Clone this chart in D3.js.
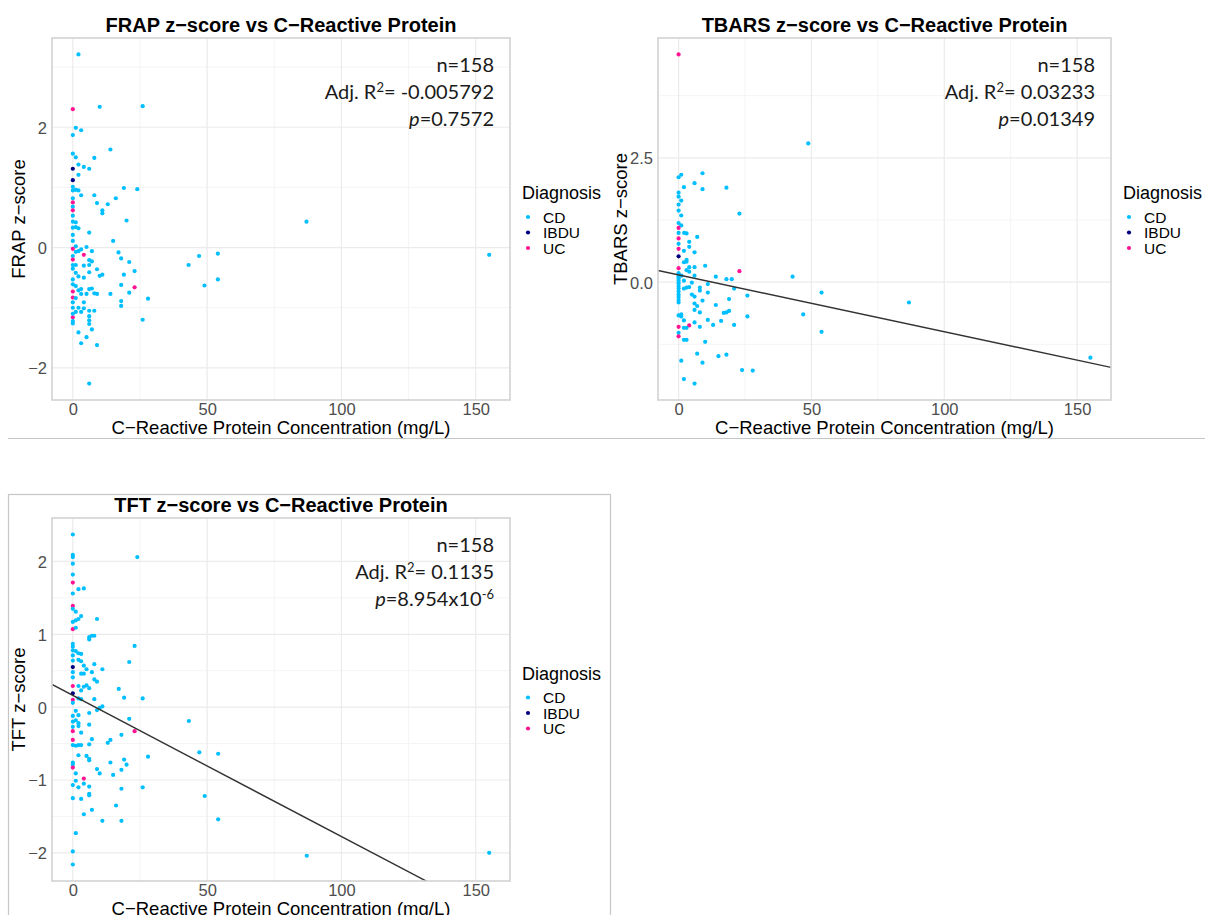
<!DOCTYPE html>
<html>
<head>
<meta charset="utf-8">
<script src="https://cdn.jsdelivr.net/npm/d3@7"></script>
<style>
  body { margin: 0; background: #fff; }
  svg { display: block; }
</style>
</head>
<body>
<svg id="chart" width="1205" height="915"></svg>
<script>
// Diagnosis groups and their colours
const diagnoses = ["CD", "IBDU", "UC"];
const diagColors = ["#00BFFF", "#000080", "#FF1493"];

// Axis ticks
const xTicks = [0, 50, 100, 150];
const xMinorTicks = [25, 75, 125];

// [CRP (mg/L), z-score, diagnosis]
const frapPoints = [
  [2.1,3.21,"CD"],[0,2.30,"UC"],[10,2.34,"CD"],[26,2.35,"CD"],[1.1,1.99,"CD"],[3.1,1.95,"CD"],[0,1.87,"CD"],
  [14,1.63,"CD"],[0,1.56,"CD"],[1.1,1.50,"CD"],[8,1.49,"CD"],[2.1,1.38,"CD"],[0,1.31,"IBDU"],[4.1,1.34,"CD"],
  [6.1,1.31,"CD"],[2.1,1.21,"CD"],[0,1.12,"IBDU"],[0,1.01,"CD"],[0,0.95,"CD"],[1.1,0.96,"CD"],[2.1,0.95,"CD"],
  [19,0.99,"CD"],[24,0.97,"CD"],[3.1,0.87,"CD"],[8,0.87,"CD"],[0,0.82,"CD"],[0,0.75,"UC"],[16,0.82,"CD"],
  [9,0.74,"CD"],[13,0.72,"CD"],[0,0.68,"CD"],[0,0.62,"UC"],[11,0.62,"CD"],[11,0.57,"CD"],[0,0.53,"CD"],
  [20,0.45,"CD"],[0,0.43,"CD"],[1.1,0.42,"CD"],[0,0.33,"CD"],[1.1,0.34,"CD"],[2.1,0.32,"CD"],[6.1,0.25,"CD"],
  [0,0.21,"CD"],[0,0.11,"CD"],[15,0.11,"CD"],[1.1,0.02,"CD"],[0,-0.02,"UC"],[5.1,0.01,"CD"],[3.1,-0.03,"CD"],
  [2.1,-0.06,"CD"],[1.1,-0.07,"CD"],[4.1,-0.12,"UC"],[7.1,-0.06,"CD"],[17,-0.08,"CD"],[0,-0.14,"CD"],
  [18,-0.18,"CD"],[0,-0.20,"UC"],[6.1,-0.21,"CD"],[7.1,-0.23,"CD"],[21,-0.24,"CD"],[0,-0.29,"CD"],
  [1.1,-0.29,"CD"],[4.1,-0.30,"CD"],[6.1,-0.29,"CD"],[0,-0.35,"CD"],[9,-0.36,"CD"],[23,-0.39,"CD"],
  [1.1,-0.42,"CD"],[6.1,-0.41,"CD"],[11,-0.45,"CD"],[10,-0.47,"CD"],[19,-0.45,"CD"],[2.1,-0.48,"CD"],
  [4.1,-0.50,"CD"],[0,-0.53,"CD"],[0,-0.61,"CD"],[1.1,-0.64,"CD"],[18,-0.62,"CD"],[7.1,-0.68,"CD"],
  [6.1,-0.69,"CD"],[23,-0.66,"UC"],[0,-0.73,"UC"],[2.1,-0.71,"CD"],[3.1,-0.69,"CD"],[3.1,-0.77,"CD"],
  [5.1,-0.77,"CD"],[8,-0.76,"CD"],[9,-0.77,"CD"],[14,-0.77,"CD"],[21,-0.75,"CD"],[0,-0.83,"UC"],
  [1.1,-0.84,"CD"],[4.1,-0.91,"CD"],[28,-0.85,"CD"],[18,-0.89,"CD"],[18,-0.97,"CD"],[0,-0.91,"CD"],
  [0,-1.0,"CD"],[2.1,-1.0,"CD"],[4.1,-1.01,"CD"],[3.1,-1.07,"CD"],[1.1,-1.07,"CD"],[6.1,-1.05,"CD"],
  [8,-1.05,"CD"],[0,-1.16,"UC"],[0,-1.10,"CD"],[0,-1.22,"CD"],[0,-1.26,"CD"],[6.1,-1.14,"CD"],
  [6.1,-1.21,"CD"],[6.1,-1.27,"CD"],[26,-1.20,"CD"],[7.1,-1.36,"CD"],[2.1,-1.41,"CD"],[5.1,-1.49,"CD"],
  [3.1,-1.59,"CD"],[9,-1.62,"CD"],[6.1,-2.26,"CD"],[87,0.43,"CD"],[43.1,-0.29,"CD"],[47,-0.14,"CD"],
  [54,-0.10,"CD"],[49,-0.63,"CD"],[54,-0.53,"CD"],[155,-0.12,"CD"]
];

const tbarsPoints = [
  [0,4.58,"UC"],[0,2.11,"CD"],[1,2.16,"CD"],[9,2.19,"CD"],[6,1.99,"CD"],[2,1.91,"CD"],[9,1.87,"CD"],
  [18,1.90,"CD"],[0,1.80,"CD"],[0,1.72,"CD"],[1,1.64,"CD"],[0,1.56,"CD"],[0,1.44,"CD"],[1,1.34,"CD"],
  [22.9,1.38,"CD"],[0,1.19,"CD"],[1,1.14,"CD"],[0,1.09,"UC"],[0,0.99,"CD"],[2.1,0.99,"CD"],[3,0.98,"CD"],
  [7,0.91,"CD"],[0,0.88,"UC"],[4,0.81,"CD"],[0,0.77,"CD"],[0,0.67,"UC"],[4,0.71,"CD"],[2,0.63,"CD"],
  [6,0.60,"CD"],[0,0.52,"IBDU"],[3,0.45,"CD"],[2,0.40,"CD"],[3,0.41,"CD"],[4,0.30,"CD"],[6,0.30,"CD"],
  [10,0.33,"CD"],[0,0.28,"UC"],[3,0.24,"CD"],[4,0.21,"CD"],[22.9,0.22,"UC"],[0,0.18,"CD"],[0,0.12,"CD"],
  [0,0.08,"CD"],[0,0.03,"CD"],[0,-0.02,"CD"],[0,-0.08,"CD"],[0,-0.13,"CD"],[0,-0.19,"CD"],[0,-0.25,"CD"],
  [0,-0.30,"CD"],[0,-0.36,"CD"],[1.1,0.13,"CD"],[6,0.13,"CD"],[14,0.11,"CD"],[18,0.06,"CD"],[20,0.06,"CD"],
  [42.9,0.11,"CD"],[2,0.03,"CD"],[5,-0.01,"CD"],[11,-0.04,"CD"],[3,-0.11,"CD"],[4,-0.10,"CD"],[2,-0.13,"CD"],
  [8,-0.11,"CD"],[8,-0.17,"CD"],[20.9,-0.13,"CD"],[11,-0.21,"CD"],[5,-0.25,"CD"],[6,-0.29,"CD"],
  [25.9,-0.27,"CD"],[19,-0.34,"CD"],[9,-0.37,"CD"],[0,-0.41,"CD"],[6,-0.43,"CD"],[7,-0.48,"CD"],
  [14,-0.46,"CD"],[6,-0.56,"CD"],[8,-0.61,"CD"],[18,-0.61,"CD"],[17,-0.62,"CD"],[19,-0.58,"CD"],
  [0,-0.67,"CD"],[1,-0.65,"CD"],[1,-0.69,"CD"],[2,-0.77,"CD"],[25.9,-0.69,"CD"],[6,-0.81,"CD"],
  [11,-0.76,"CD"],[16,-0.78,"CD"],[8,-0.90,"CD"],[13,-0.86,"CD"],[20.9,-0.86,"CD"],[0,-0.90,"UC"],
  [4,-0.87,"UC"],[2,-0.92,"CD"],[3,-0.92,"CD"],[0,-1.02,"CD"],[0,-1.09,"UC"],[2,-1.16,"CD"],[3,-1.16,"CD"],
  [10,-1.20,"CD"],[7,-1.44,"CD"],[18,-1.46,"CD"],[15,-1.49,"CD"],[9,-1.62,"CD"],[1,-1.58,"CD"],
  [23.9,-1.77,"CD"],[27.9,-1.78,"CD"],[2,-1.95,"CD"],[6,-2.04,"CD"],[48.8,2.79,"CD"],[53.8,-0.21,"CD"],
  [46.9,-0.65,"CD"],[53.8,-1.00,"CD"],[86.7,-0.41,"CD"],[155,-1.52,"CD"]
];

const tftPoints = [
  [0,2.37,"CD"],[0,2.09,"CD"],[0,2.06,"CD"],[0,1.97,"CD"],[24,2.06,"CD"],[0,1.82,"CD"],[0,1.71,"UC"],
  [0,1.56,"CD"],[2.1,1.62,"CD"],[4.1,1.63,"CD"],[0,1.39,"UC"],[0,1.35,"CD"],[1.1,1.31,"CD"],[3.1,1.25,"CD"],
  [2.1,1.21,"CD"],[1.1,1.19,"CD"],[0,1.17,"CD"],[9,1.21,"CD"],[0,1.07,"UC"],[1.1,1.09,"CD"],[6.1,0.96,"CD"],
  [7.1,0.98,"CD"],[8,0.98,"CD"],[6.1,0.93,"CD"],[0,0.87,"CD"],[0,0.83,"CD"],[0,0.78,"CD"],[23,0.84,"CD"],
  [1.1,0.77,"CD"],[2.1,0.74,"CD"],[3.1,0.73,"CD"],[0,0.71,"CD"],[0,0.64,"CD"],[2.1,0.65,"CD"],[3.1,0.63,"CD"],
  [8,0.59,"CD"],[21,0.62,"CD"],[4.1,0.57,"CD"],[5.1,0.52,"CD"],[0,0.55,"IBDU"],[11,0.52,"CD"],[7.1,0.48,"CD"],
  [0,0.48,"CD"],[0,0.41,"CD"],[3.1,0.46,"CD"],[4.1,0.46,"CD"],[8,0.38,"CD"],[9,0.35,"CD"],[0,0.29,"UC"],
  [2.1,0.29,"CD"],[4.1,0.28,"CD"],[5.1,0.30,"CD"],[3.1,0.23,"CD"],[6.1,0.26,"CD"],[17.1,0.25,"CD"],
  [0,0.19,"IBDU"],[0,0.10,"UC"],[2.1,0.12,"CD"],[3.1,0.11,"CD"],[8,0.11,"CD"],[19.1,0.13,"CD"],[26,0.12,"CD"],
  [0,0.06,"CD"],[11,0.01,"CD"],[9,-0.04,"CD"],[10,-0.01,"CD"],[1.1,-0.05,"CD"],[0,-0.12,"CD"],[2.1,-0.11,"CD"],
  [6.1,-0.08,"CD"],[21,-0.16,"CD"],[1.1,-0.18,"CD"],[0,-0.20,"CD"],[2.1,-0.22,"CD"],[2.1,-0.26,"CD"],
  [6.1,-0.24,"CD"],[0,-0.27,"CD"],[0,-0.33,"UC"],[3.1,-0.35,"CD"],[18.1,-0.38,"CD"],[23,-0.33,"UC"],
  [0,-0.45,"UC"],[7.1,-0.44,"CD"],[14,-0.45,"CD"],[13,-0.49,"CD"],[0,-0.52,"CD"],[1.1,-0.53,"CD"],
  [2.1,-0.52,"CD"],[3.1,-0.52,"CD"],[6.1,-0.51,"CD"],[2.1,-0.66,"CD"],[5.1,-0.67,"CD"],[6.1,-0.71,"CD"],
  [6.1,-0.73,"CD"],[28,-0.68,"CD"],[0,-0.76,"CD"],[0,-0.79,"CD"],[0,-0.83,"UC"],[14,-0.76,"CD"],
  [19.1,-0.72,"CD"],[20,-0.79,"CD"],[18.1,-0.86,"CD"],[9,-0.85,"CD"],[10,-0.91,"CD"],[15,-0.93,"CD"],
  [1.1,-0.91,"CD"],[1.1,-1.01,"CD"],[0,-1.07,"CD"],[4.1,-0.98,"UC"],[2.1,-1.10,"CD"],[4.1,-1.05,"CD"],
  [6.1,-1.09,"CD"],[6.1,-1.19,"CD"],[6.1,-1.21,"CD"],[18.1,-1.12,"CD"],[26,-1.10,"CD"],[0,-1.25,"CD"],
  [3.1,-1.26,"CD"],[4.1,-1.47,"CD"],[7.1,-1.41,"CD"],[16.1,-1.35,"CD"],[11,-1.56,"CD"],[18.1,-1.56,"CD"],
  [1.1,-1.73,"CD"],[0,-1.98,"CD"],[0,-2.16,"CD"],[43.2,-0.19,"CD"],[47.1,-0.62,"CD"],[54.1,-0.64,"CD"],
  [49.1,-1.22,"CD"],[54.1,-1.54,"CD"],[87.1,-2.04,"CD"],[155,-2.00,"CD"]
];

// Fitted lines: [intercept, slope] (null = no line drawn)
const frapFit = null;
const tbarsFit = [0.145, -0.01143];
const tftFit = [0.161, -0.01937];

// Statistics text
const frapStats = ["n=158", "-0.005792", "0.7572", null];
const tbarsStats = ["n=158", "0.03233", "0.01349", null];
const tftStats = ["n=158", "0.1135", "8.954x10", "-6"];

// Layout of the three pasted plots
const panels = [
  { title: "FRAP z\u2212score vs C\u2212Reactive Protein", ylab: "FRAP z\u2212score",
    pts: frapPoints, fit: frapFit, stats: frapStats, ylabOff: 27,
    box: { l: 52, r: 510, t: 38, b: 400 }, yTicks: [-2, 0, 2], yMinor: [-1, 1, 3], yFmt: "d" },
  { title: "TBARS z\u2212score vs C\u2212Reactive Protein", ylab: "TBARS z\u2212score",
    pts: tbarsPoints, fit: tbarsFit, stats: tbarsStats, ylabOff: 31,
    box: { l: 658, r: 1111, t: 38, b: 400 }, yTicks: [0, 2.5], yMinor: [-1.25, 1.25, 3.75], yFmt: ".1f" },
  { title: "TFT z\u2212score vs C\u2212Reactive Protein", ylab: "TFT z\u2212score",
    pts: tftPoints, fit: tftFit, stats: tftStats, ylabOff: 27,
    box: { l: 52, r: 510, t: 518, b: 881 }, yTicks: [-2, -1, 0, 1, 2], yMinor: [-1.5, -0.5, 0.5, 1.5], yFmt: "d" }
];

const svg = d3.select("#chart");
const color = d3.scaleOrdinal().domain(diagnoses).range(diagColors);
const minus = s => s.replace("-", "\u2212");

// frames of the pasted images
svg.append("line").attr("x1", 8).attr("x2", 1205).attr("y1", 438.5).attr("y2", 438.5)
  .attr("stroke", "#c6c6c6").attr("stroke-width", 1.2);
svg.append("rect").attr("x", 8.5).attr("y", 494.5).attr("width", 602).attr("height", 440)
  .attr("fill", "none").attr("stroke", "#c6c6c6").attr("stroke-width", 1.2);

// ggplot-like expansion of 5% on each side
function expand(ext) {
  const pad = (ext[1] - ext[0]) * 0.05;
  return [ext[0] - pad, ext[1] + pad];
}

panels.forEach((p, i) => {
  const b = p.box;
  const g = svg.append("g");
  const x = d3.scaleLinear().domain(expand(d3.extent(p.pts, d => d[0]))).range([b.l, b.r]);
  const y = d3.scaleLinear().domain(expand(d3.extent(p.pts, d => d[1]))).range([b.b, b.t]);

  // minor grid
  g.selectAll(".vmin").data(xMinorTicks).enter().append("line")
    .attr("x1", d => x(d)).attr("x2", d => x(d)).attr("y1", b.t).attr("y2", b.b)
    .attr("stroke", "#f4f4f4").attr("stroke-width", 1);
  g.selectAll(".hmin").data(p.yMinor).enter().append("line")
    .attr("x1", b.l).attr("x2", b.r).attr("y1", d => y(d)).attr("y2", d => y(d))
    .attr("stroke", "#f4f4f4").attr("stroke-width", 1);

  // major grid
  g.selectAll(".vmaj").data(xTicks).enter().append("line")
    .attr("x1", d => x(d)).attr("x2", d => x(d)).attr("y1", b.t).attr("y2", b.b)
    .attr("stroke", "#ebebeb").attr("stroke-width", 1.2);
  g.selectAll(".hmaj").data(p.yTicks).enter().append("line")
    .attr("x1", b.l).attr("x2", b.r).attr("y1", d => y(d)).attr("y2", d => y(d))
    .attr("stroke", "#ebebeb").attr("stroke-width", 1.2);

  // axes (labels only)
  const xAxis = g.append("g").attr("transform", `translate(0,${b.b})`)
    .call(d3.axisBottom(x).tickValues(xTicks).tickSize(0).tickPadding(3.5).tickFormat(d3.format("d")));
  const yAxis = g.append("g").attr("transform", `translate(${b.l},0)`)
    .call(d3.axisLeft(y).tickValues(p.yTicks).tickSize(0).tickPadding(5)
      .tickFormat(d => minus(d3.format(p.yFmt)(d))));
  [xAxis, yAxis].forEach(a => {
    a.select(".domain").remove();
    a.selectAll("text").attr("fill", "#4d4d4d").attr("font-size", 16.5)
      .attr("font-family", "'Liberation Sans', Arial, sans-serif");
  });
  yAxis.selectAll("text").attr("dy", "0.36em");

  // clip for fitted line
  const clipId = "clip" + i;
  svg.append("clipPath").attr("id", clipId).append("rect")
    .attr("x", b.l).attr("y", b.t).attr("width", b.r - b.l).attr("height", b.b - b.t);

  // points
  g.append("g").selectAll("circle").data(p.pts).enter().append("circle")
    .attr("cx", d => x(d[0])).attr("cy", d => y(d[1])).attr("r", 2.1)
    .attr("fill", d => color(d[2]));

  // regression line
  if (p.fit) {
    const xd = x.domain();
    g.append("line").attr("clip-path", `url(#${clipId})`)
      .attr("x1", x(xd[0])).attr("y1", y(p.fit[0] + p.fit[1] * xd[0]))
      .attr("x2", x(xd[1])).attr("y2", y(p.fit[0] + p.fit[1] * xd[1]))
      .attr("stroke", "#333").attr("stroke-width", 1.4);
  }

  // panel border
  g.append("rect").attr("x", b.l).attr("y", b.t).attr("width", b.r - b.l).attr("height", b.b - b.t)
    .attr("fill", "none").attr("stroke", "#d2d2d2").attr("stroke-width", 1.6);

  // title
  g.append("text").attr("x", (b.l + b.r) / 2).attr("y", b.t - 6.5)
    .attr("text-anchor", "middle").attr("font-size", 20).attr("font-weight", "bold")
    .attr("font-family", "'Liberation Sans', Arial, sans-serif").attr("fill", "#000")
    .text(p.title);

  // axis titles
  g.append("text").attr("x", (b.l + b.r) / 2).attr("y", b.b + 34)
    .attr("text-anchor", "middle").attr("font-size", 18.5)
    .attr("font-family", "'Liberation Sans', Arial, sans-serif").attr("fill", "#000")
    .text("C\u2212Reactive Protein Concentration (mg/L)");
  g.append("text")
    .attr("transform", `translate(${b.l - p.ylabOff},${(b.t + b.b) / 2}) rotate(-90)`)
    .attr("text-anchor", "middle").attr("font-size", 18.5)
    .attr("font-family", "'Liberation Sans', Arial, sans-serif").attr("fill", "#000")
    .text(p.ylab);

  // stats annotation
  const ax = b.r - 16, ay = b.t + 34;
  const font = "Lato, 'Open Sans', sans-serif";
  g.append("text").attr("x", ax).attr("y", ay).attr("text-anchor", "end")
    .attr("font-size", 20).attr("font-family", font).attr("fill", "#1a1a1a").text(p.stats[0]);
  const r2 = g.append("text").attr("x", ax).attr("y", ay + 27).attr("text-anchor", "end")
    .attr("font-size", 20).attr("font-family", font).attr("fill", "#1a1a1a");
  r2.append("tspan").text("Adj. R");
  r2.append("tspan").attr("dy", -7).attr("font-size", 13).text("2");
  r2.append("tspan").attr("dy", 7).text("= " + p.stats[1]);
  const pv = g.append("text").attr("x", ax).attr("y", ay + 54).attr("text-anchor", "end")
    .attr("font-size", 20).attr("font-family", font).attr("fill", "#1a1a1a");
  pv.append("tspan").attr("font-style", "italic").text("p");
  pv.append("tspan").text("=" + p.stats[2]);
  if (p.stats[3]) pv.append("tspan").attr("dy", -7).attr("font-size", 13).text(p.stats[3]);

  // legend
  const lg = g.append("g").attr("transform", `translate(${b.r + 12},${(b.t + b.b) / 2 - 20})`);
  lg.append("text").attr("x", 0).attr("y", 0).attr("font-size", 18)
    .attr("font-family", "'Liberation Sans', Arial, sans-serif").attr("fill", "#000").text("Diagnosis");
  const items = lg.selectAll(".item").data(diagnoses).enter().append("g")
    .attr("transform", (d, k) => `translate(0,${18 + k * 15.5})`);
  items.append("circle").attr("cx", 6).attr("cy", 0).attr("r", 2.1).attr("fill", d => color(d));
  items.append("text").attr("x", 21).attr("y", 5.8).attr("font-size", 15.5)
    .attr("font-family", "'Liberation Sans', Arial, sans-serif").attr("fill", "#000").text(d => d);
});
</script>
</body>
</html>
